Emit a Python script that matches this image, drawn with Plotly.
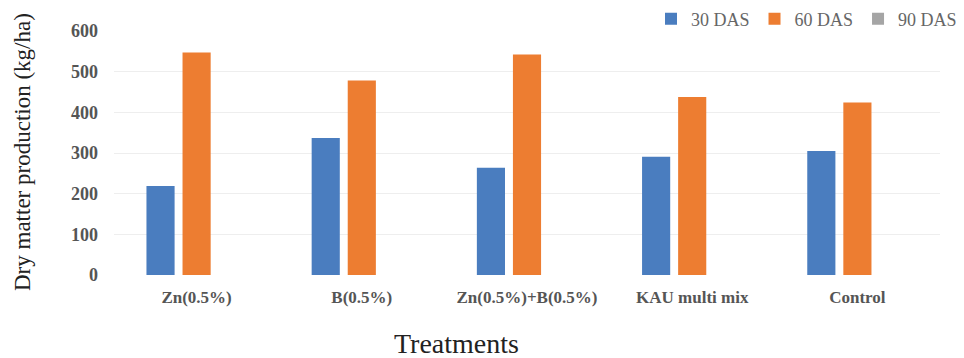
import plotly.graph_objects as go

categories = ["Zn(0.5%)", "B(0.5%)", "Zn(0.5%)+B(0.5%)", "KAU multi mix", "Control"]
das30 = [219, 337, 264, 291, 305]
das60 = [547, 478, 542, 438, 424]
das90 = [0, 0, 0, 0, 0]
series_names = ["30 DAS", "60 DAS", "90 DAS"]
series_colors = ["#4A7DBF", "#ED7D31", "#A5A5A5"]
y_ticks = [0, 100, 200, 300, 400, 500, 600]

# page body adds an 8px offset; work in reference coords minus 8
OFF = 8
W, H = 964 - OFF, 358 - OFF
ML = 114 - OFF
MT = 31 - OFF
PLOT_R = 940 - OFF
PLOT_B = 275 - OFF
MR = W - PLOT_R
MB = H - PLOT_B
plot_w = W - ML - MR
plot_h = H - MT - MB

def px_x(x_ref):
    return (x_ref - OFF - ML) / plot_w

def px_y(y_ref):
    return (PLOT_B - (y_ref - OFF)) / plot_h

fig = go.Figure()
for name, vals, col in zip(series_names, [das30, das60, das90], series_colors):
    fig.add_trace(go.Bar(name=name, x=categories, y=vals, marker=dict(color=col, line=dict(width=0))))

serif = "Liberation Serif, Times New Roman, serif"
fig.update_layout(
    width=W, height=H,
    margin=dict(l=ML, r=MR, t=MT, b=MB, autoexpand=False),
    barmode="group", bargap=0.345, bargroupgap=0.22,
    plot_bgcolor="white", paper_bgcolor="white",
    font=dict(family=serif, color="#595959", size=16),
    showlegend=True,
    legend=dict(orientation="h", x=px_x(962), xanchor="right", y=px_y(19), yanchor="middle",
                font=dict(family=serif, size=18, color="#666666"), itemwidth=30,
                bgcolor="rgba(0,0,0,0)"),
    xaxis=dict(showgrid=False, showline=False, ticks="", ticklabelstandoff=10,
               tickfont=dict(family=serif, size=17, color="#555555", weight="bold")),
    yaxis=dict(range=[0, 600], tickvals=y_ticks, showgrid=True, gridcolor="#EEEEEE", gridwidth=1,
               zeroline=False, showline=False, ticks="", ticklabelstandoff=15,
               tickfont=dict(family=serif, size=18, color="#555555", weight="bold")),
    annotations=[
        dict(text="Dry matter production (kg/ha)", textangle=-90, xref="paper", yref="paper",
             x=px_x(22), y=px_y(152), xanchor="center", yanchor="middle",
             showarrow=False, font=dict(family=serif, size=23, color="#222222")),
        dict(text="Treatments", xref="paper", yref="paper",
             x=px_x(456), y=px_y(343), xanchor="center", yanchor="middle",
             showarrow=False, font=dict(family=serif, size=28, color="#222222")),
    ],
)

fig.write_html("out.html")
